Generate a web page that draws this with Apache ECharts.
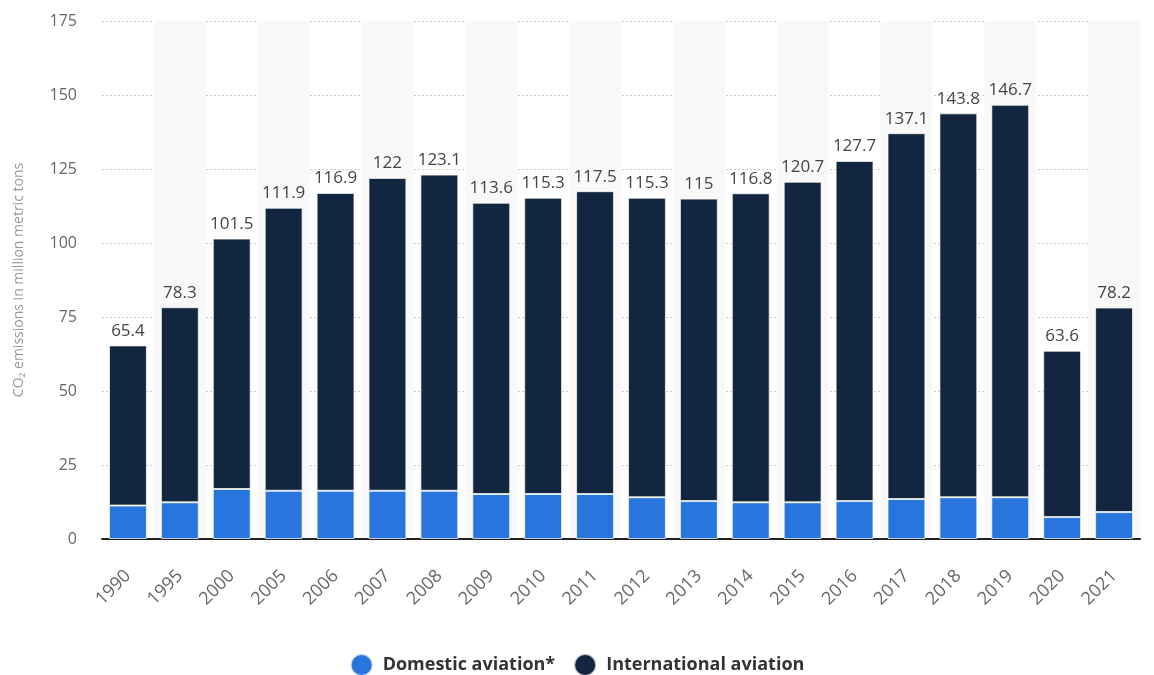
<!DOCTYPE html>
<html><head><meta charset="utf-8">
<script src="https://cdn.jsdelivr.net/npm/echarts@6/dist/echarts.min.js"></script>
<style>html,body{margin:0;padding:0;background:#fff}#c{width:1154px;height:675px}</style>
</head><body><div id="c"></div>
<script>
const years = ['1990','1995','2000','2005','2006','2007','2008','2009','2010','2011','2012','2013','2014','2015','2016','2017','2018','2019','2020','2021'];
const domestic = [11.3,12.4,16.9,16.3,16.3,16.3,16.3,15.2,15.2,15.2,14.1,12.8,12.4,12.4,12.8,13.5,14.1,14.1,7.4,9.1];
const international = [54.1,65.9,84.6,95.6,100.6,105.7,106.8,98.4,100.1,102.3,101.2,102.2,104.4,108.3,114.9,123.6,129.7,132.6,56.2,69.1];
const totals = ['65.4','78.3','101.5','111.9','116.9','122','123.1','113.6','115.3','117.5','115.3','115','116.8','120.7','127.7','137.1','143.8','146.7','63.6','78.2'];
const yTicks = {min:0, max:175, interval:25};

const chart = echarts.init(document.getElementById('c'), null, {renderer:'canvas'});
chart.setOption({
  animation:false,
  textStyle:{fontFamily:'"Open Sans", "Noto Sans", sans-serif'},
  grid:{left:102, right:14, top:21, bottom:136},
  legend:{
    bottom:-2, left:'center', padding:0, icon:'circle', itemWidth:22, itemHeight:22, itemGap:18,
    textStyle:{fontSize:18, fontWeight:'bold', color:'#333', padding:[0,0,0,5]},
    data:['Domestic aviation*','International aviation']
  },
  xAxis:{
    type:'category', data:years,
    axisLine:{lineStyle:{color:'#222', width:2}},
    axisTick:{show:false},
    axisLabel:{rotate:45, fontSize:18, color:'#666', margin:34},
    splitArea:{show:true, interval:0, areaStyle:{color:['rgba(255,255,255,0)','#f8f8f8']}}
  },
  yAxis:{
    type:'value', min:yTicks.min, max:yTicks.max, interval:yTicks.interval,
    name:'CO\u2082 emissions in million metric tons', nameLocation:'middle', nameGap:76,
    nameTextStyle:{fontSize:14, color:'#999'},
    axisLine:{show:false}, axisTick:{show:false},
    axisLabel:{fontSize:16, color:'#666', margin:25},
    splitLine:{lineStyle:{color:'#ccc', type:[2,2]}}
  },
  series:[
    {name:'Domestic aviation*', type:'bar', stack:'a', data:domestic, barWidth:'73%',
     itemStyle:{color:'#2876dd', borderColor:'rgba(255,255,255,0.7)', borderWidth:1}},
    {name:'International aviation', type:'bar', stack:'a', data:international, barWidth:'73%',
     itemStyle:{color:'#12273f', borderColor:'rgba(255,255,255,0.7)', borderWidth:1},
     label:{show:true, position:'top', distance:6, fontSize:17, color:'#444',
       formatter:p=>totals[p.dataIndex]}}
  ]
});
</script></body></html>
